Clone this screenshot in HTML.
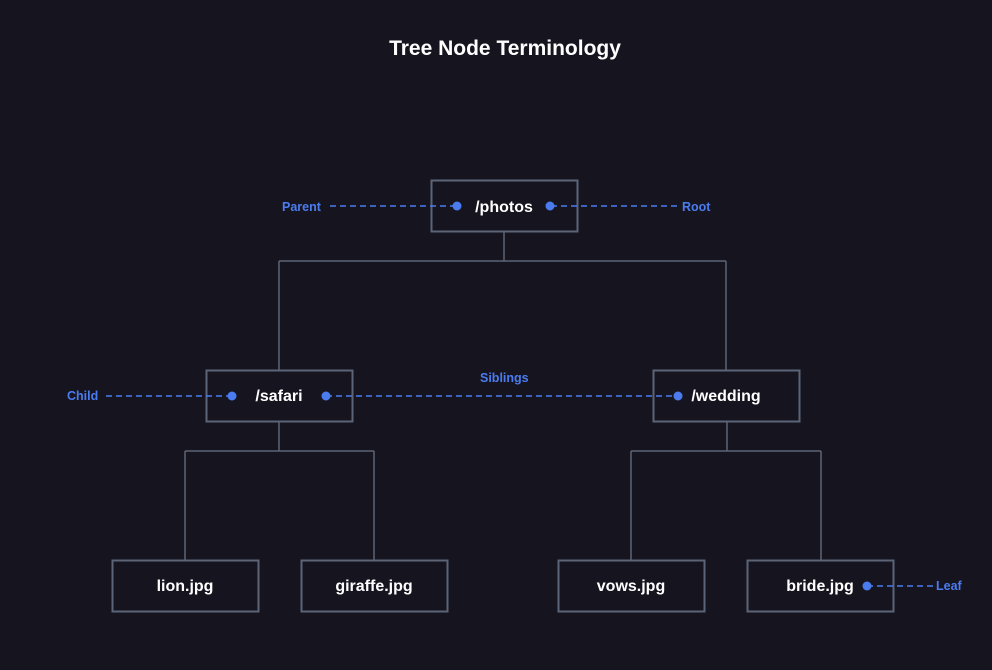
<!DOCTYPE html>
<html><head><meta charset="utf-8"><style>
html,body{margin:0;padding:0;background:#16151f;}
svg{display:block}
text{font-family:"Liberation Sans",sans-serif;}
</style></head><body>
<svg width="992" height="670" viewBox="0 0 992 670">
<rect width="992" height="670" fill="#16151f"/>
<text x="505" y="55" fill="#ffffff" font-size="21" font-weight="bold" text-anchor="middle">Tree Node Terminology</text>
<g stroke="#5c6577" stroke-width="1.5" fill="none">
<path d="M504 231V261M279 261H726M279 261V370M726 261V370"/>
<path d="M279 421V451M185 451H374M185 451V560M374 451V560"/>
<path d="M727 421V451M631 451H821M631 451V560M821 451V560"/>
<g stroke-width="2" fill="#16151f">
<rect x="431.5" y="180.5" width="146" height="51"/>
<rect x="206.5" y="370.5" width="146" height="51"/>
<rect x="653.5" y="370.5" width="146" height="51"/>
<rect x="112.5" y="560.5" width="146" height="51"/>
<rect x="301.5" y="560.5" width="146" height="51"/>
<rect x="558.5" y="560.5" width="146" height="51"/>
<rect x="747.5" y="560.5" width="146" height="51"/>
</g>
</g>
<g fill="#ffffff" font-size="16" font-weight="bold" text-anchor="middle">
<text x="504" y="212">/photos</text>
<text x="279" y="401">/safari</text>
<text x="726" y="401">/wedding</text>
<text x="185" y="591">lion.jpg</text>
<text x="374" y="591">giraffe.jpg</text>
<text x="631" y="591">vows.jpg</text>
<text x="820" y="591">bride.jpg</text>
</g>
<g stroke="#4a7cf0" stroke-width="1.5" stroke-dasharray="6,4" fill="none">
<path d="M330 206H456M551 206H678"/>
<path d="M106 396H232M326 396H678"/>
<path d="M867 586H933"/>
</g>
<g fill="#4a7cf0">
<circle cx="457" cy="206" r="4.5"/><circle cx="550" cy="206" r="4.5"/>
<circle cx="232" cy="396" r="4.5"/><circle cx="326" cy="396" r="4.5"/><circle cx="678" cy="396" r="4.5"/>
<circle cx="867" cy="586" r="4.5"/>
</g>
<g fill="#4a7cf0" font-size="12.5" font-weight="bold">
<text x="282" y="211">Parent</text>
<text x="682" y="211">Root</text>
<text x="67" y="400">Child</text>
<text x="480" y="382">Siblings</text>
<text x="936" y="590">Leaf</text>
</g>
</svg>
</body></html>
